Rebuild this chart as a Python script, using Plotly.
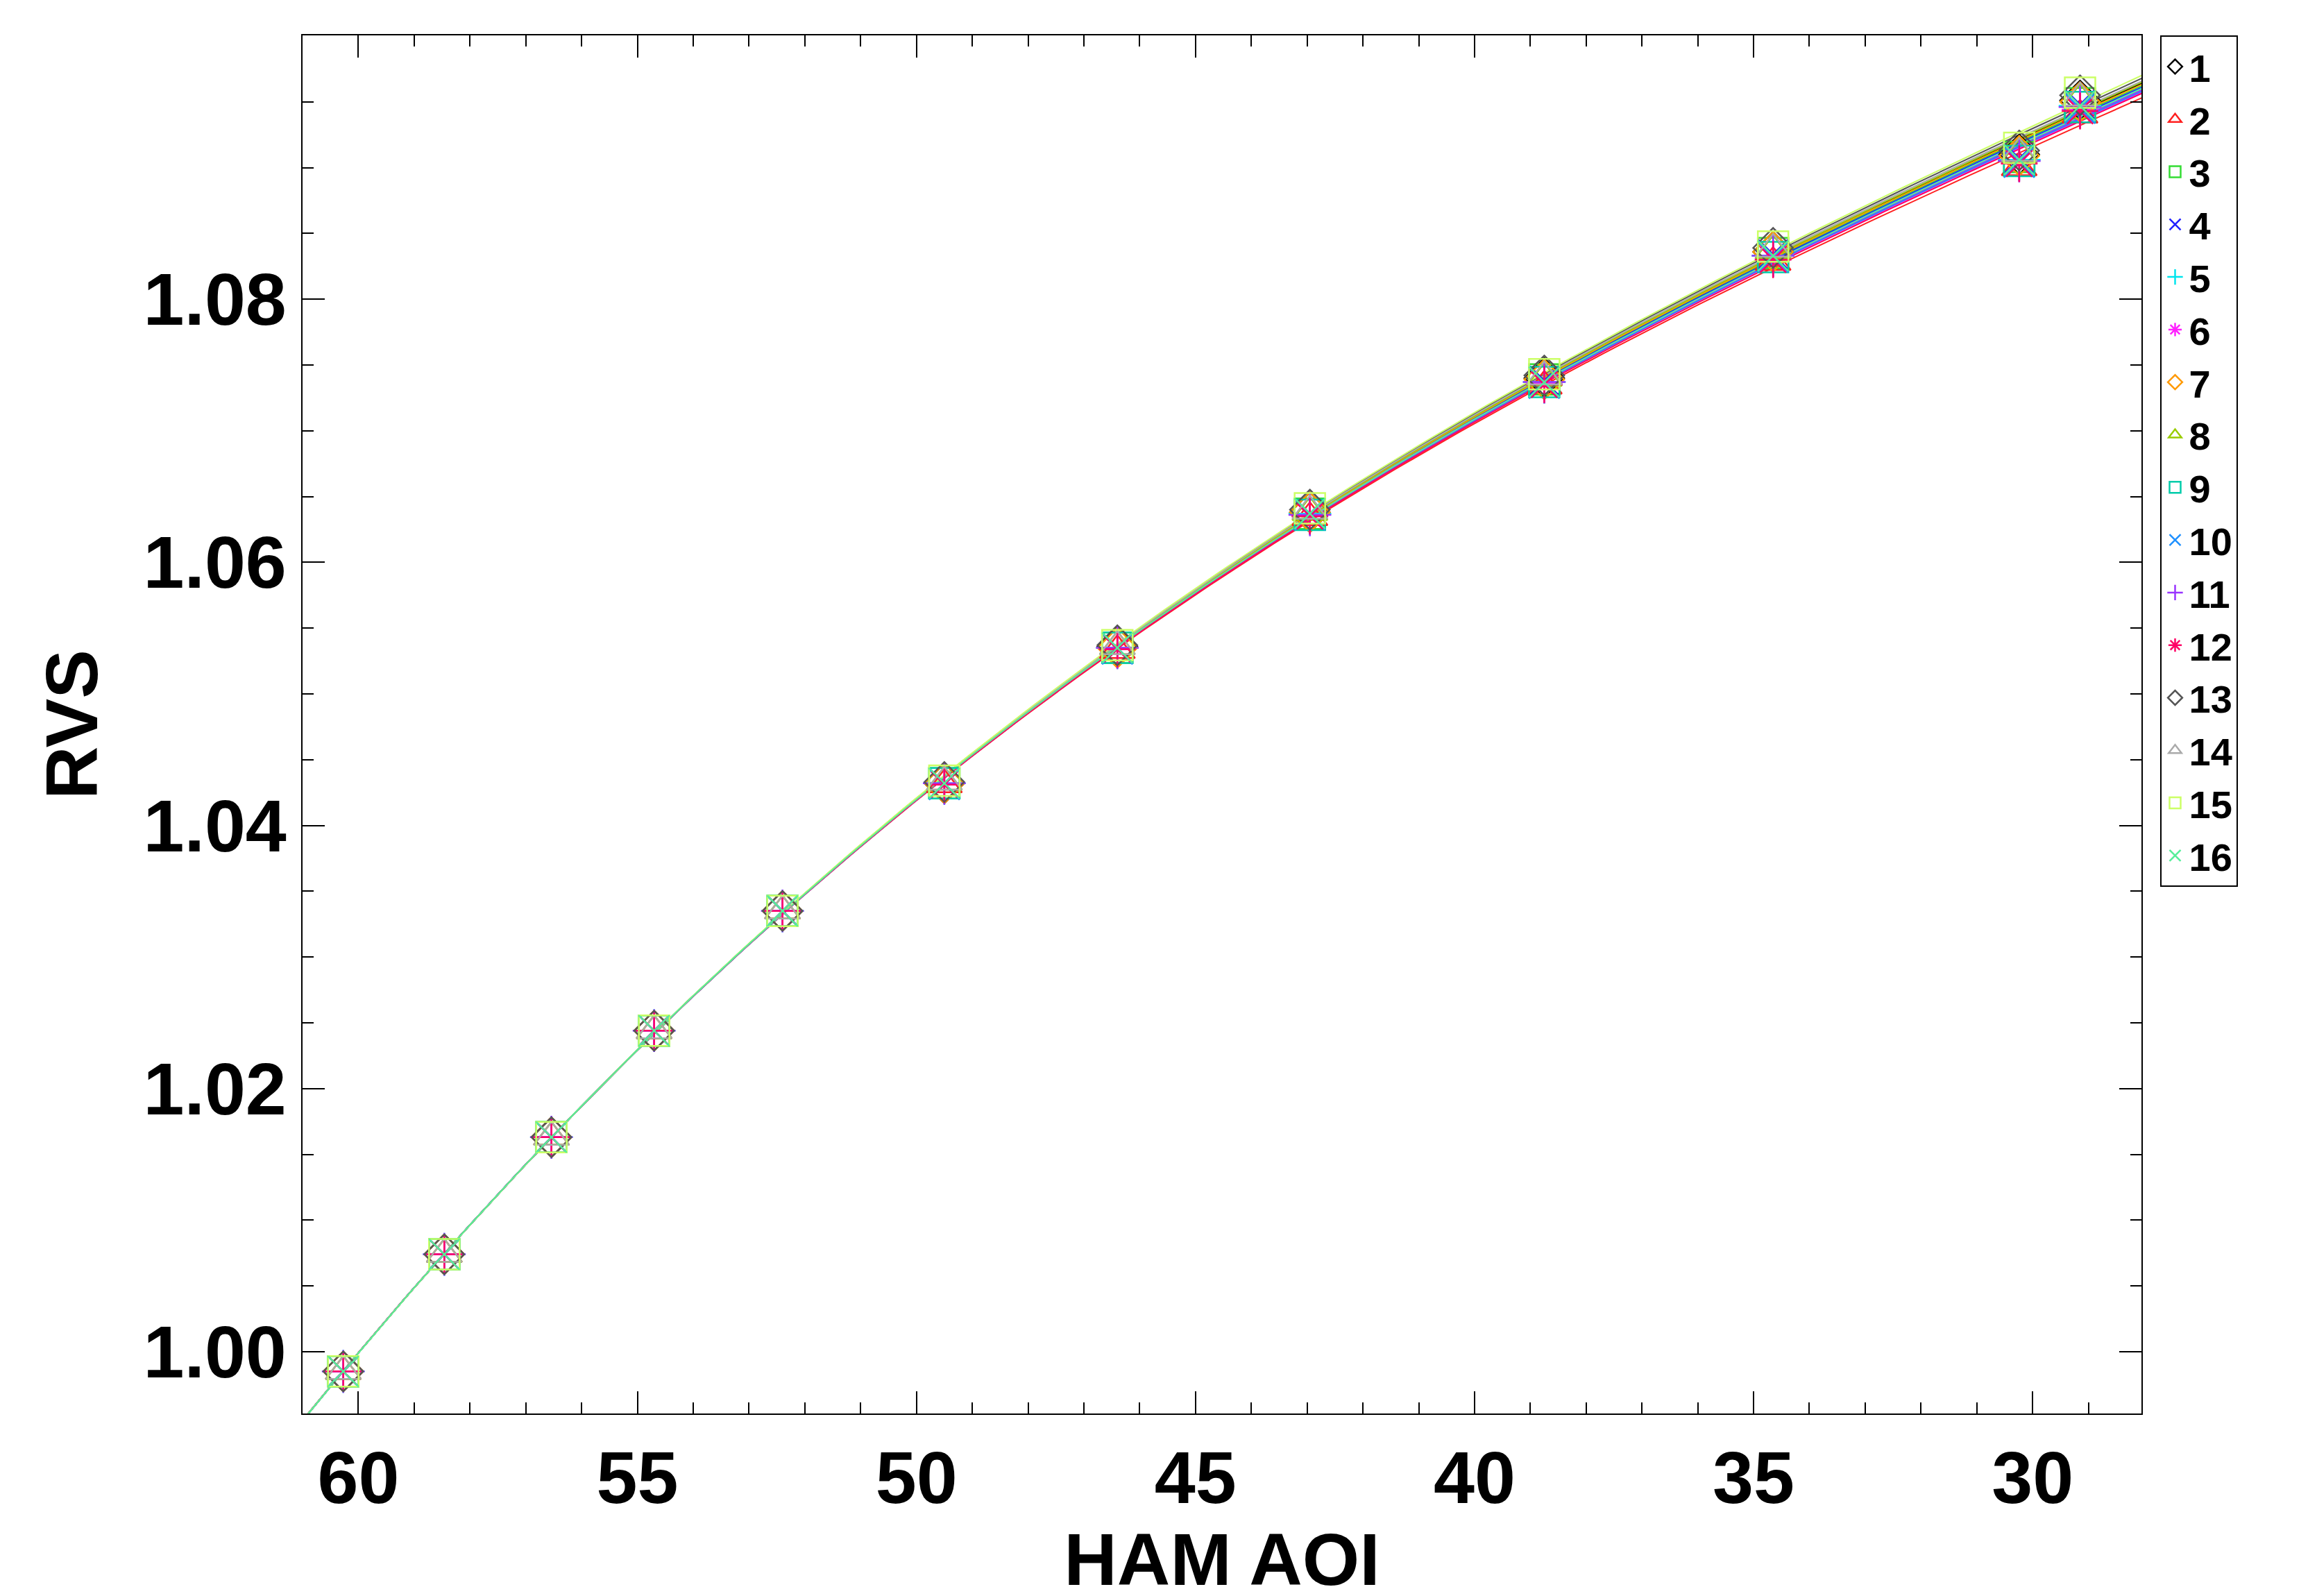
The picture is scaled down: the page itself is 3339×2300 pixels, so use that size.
import numpy as np
import plotly.graph_objects as go

aoi = [60.27, 58.46, 56.54, 54.7, 52.4, 49.5, 46.4, 42.95, 38.75, 34.65, 30.24, 29.15]
head = [0.9985, 1.0074, 1.0163, 1.0244, 1.0335]
tails = [
    [1.0432, 1.0536, 1.0638, 1.0740, 1.0836, 1.0910, 1.0951],
    [1.0431, 1.0533, 1.0634, 1.0734, 1.0828, 1.0900, 1.0940],
    [1.0432, 1.0535, 1.0637, 1.0739, 1.0835, 1.0908, 1.0949],
    [1.0432, 1.0535, 1.0637, 1.0738, 1.0834, 1.0907, 1.0948],
    [1.0432, 1.0535, 1.0637, 1.0737, 1.0833, 1.0906, 1.0947],
    [1.0431, 1.0534, 1.0636, 1.0736, 1.0831, 1.0904, 1.0944],
    [1.0432, 1.0535, 1.0638, 1.0739, 1.0836, 1.0909, 1.0950],
    [1.0433, 1.0536, 1.0638, 1.0740, 1.0837, 1.0910, 1.0952],
    [1.0432, 1.0535, 1.0636, 1.0737, 1.0832, 1.0905, 1.0946],
    [1.0431, 1.0534, 1.0636, 1.0736, 1.0832, 1.0904, 1.0945],
    [1.0432, 1.0535, 1.0636, 1.0737, 1.0833, 1.0905, 1.0946],
    [1.0431, 1.0534, 1.0635, 1.0735, 1.0830, 1.0903, 1.0943],
    [1.0433, 1.0537, 1.0640, 1.0742, 1.0839, 1.0913, 1.0955],
    [1.0433, 1.0536, 1.0639, 1.0741, 1.0838, 1.0911, 1.0953],
    [1.0434, 1.0537, 1.0641, 1.0743, 1.0840, 1.0915, 1.0957],
    [1.0432, 1.0535, 1.0637, 1.0737, 1.0833, 1.0906, 1.0947],
]
names = [str(i) for i in range(1, 17)]
colors = ["#000000", "#ff2020", "#33dd33", "#2020ff", "#00e5ee", "#ff20ff", "#ff9900", "#99cc00",
          "#00ccaa", "#1e90ff", "#9933ff", "#ff0066", "#555555", "#aaaaaa", "#ccff66", "#55ee99"]
symbols = ["diamond-open", "triangle-up-open", "square-open", "x-thin-open", "cross-thin-open", "asterisk-open"]

fig = go.Figure()
xfit = np.linspace(61, 28, 200)
for i, t in enumerate(tails):
    y = head + t
    c = np.polyfit(aoi, y, 3)
    fig.add_trace(go.Scatter(x=xfit, y=np.polyval(c, xfit), mode="lines",
                             line=dict(color=colors[i], width=2), showlegend=False, hoverinfo="skip"))
for i, t in enumerate(tails):
    y = head + t
    fig.add_trace(go.Scatter(x=aoi, y=y, mode="markers", name=names[i],
                             marker=dict(symbol=symbols[i % 6], size=44, color=colors[i],
                                         line=dict(width=2.5, color=colors[i]))))

font = dict(family="Liberation Sans", size=106, color="black", weight="bold")
axcommon = dict(showline=True, linecolor="black", linewidth=2, mirror="allticks", ticks="inside",
                ticklen=32, tickwidth=2, tickcolor="black", showgrid=False, zeroline=False,
                tickfont=font)
fig.update_xaxes(range=[61.0, 28.05], tickvals=[60, 55, 50, 45, 40, 35, 30],
                 minor=dict(dtick=1, ticks="inside", ticklen=16, tickcolor="black", tickwidth=2),
                 title=dict(text="HAM AOI", font=font, standoff=5), **axcommon)
fig.update_yaxes(range=[0.9953, 1.10005], tickvals=[1.00, 1.02, 1.04, 1.06, 1.08, 1.10], tickformat=".2f",
                 minor=dict(dtick=0.005, ticks="inside", ticklen=16, tickcolor="black", tickwidth=2),
                 title=dict(text="RVS", font=font, standoff=30), **axcommon)
fig.update_layout(width=3339, height=2300, plot_bgcolor="white", paper_bgcolor="white",
                  margin=dict(l=428, r=261, t=43, b=271),
                  legend=dict(x=1.01, y=1, xanchor="left", yanchor="top", bordercolor="black", borderwidth=2,
                              font=dict(family="Liberation Sans", size=56, color="black", weight="bold"),
                              tracegroupgap=0, itemwidth=30))
fig.write_html("out.html")
